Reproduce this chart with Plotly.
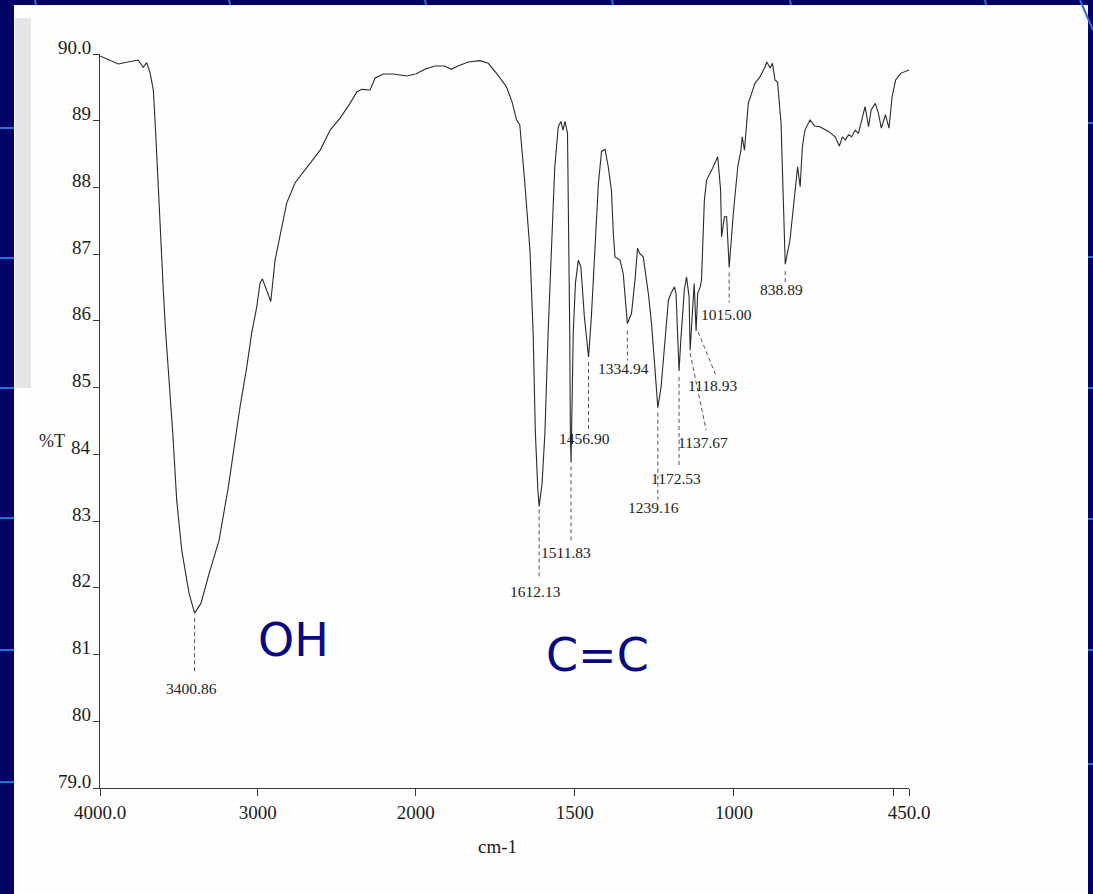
import plotly.graph_objects as go
import numpy as np

# ---------------- data ----------------
WAVENUMBER = [
    4000, 3884, 3823, 3759, 3726, 3704, 3683, 3662, 3645, 3631, 3615, 3599, 3585, 3567,
    3539, 3514, 3482, 3436, 3400.86, 3360, 3308, 3246, 3187, 3144, 3113, 3070, 3039, 3007,
    2986, 2971, 2944, 2918, 2891, 2859, 2817, 2764, 2701, 2637, 2605, 2542, 2479, 2416,
    2373, 2342, 2289, 2257, 2205, 2142, 2057, 2000,
    1971, 1940, 1909, 1888, 1867, 1835, 1798, 1772, 1746, 1715, 1697, 1683, 1673, 1657,
    1641, 1631, 1624, 1616, 1612.13, 1603, 1594, 1584, 1573, 1563, 1552, 1544, 1537, 1531,
    1523, 1519, 1516, 1514, 1511.83, 1505, 1498, 1489, 1481, 1470, 1456.90, 1448, 1437,
    1426, 1416, 1405, 1395, 1385, 1379, 1374, 1364, 1358, 1348, 1341, 1334.94, 1322, 1311,
    1303, 1296, 1285, 1269, 1259, 1248, 1239.16, 1229, 1217, 1206, 1198, 1187, 1182,
    1172.53, 1167, 1156, 1149, 1141, 1137.67, 1129, 1125, 1118.93, 1114, 1106, 1102, 1093,
    1086, 1070, 1051, 1042, 1039, 1030, 1023, 1015.00, 1002, 988, 978, 974, 967, 960, 955,
    934, 918, 902, 897, 886, 879, 871, 863, 852, 845, 838.89, 824, 810, 800, 792, 785, 777,
    761, 746, 730, 703, 682, 669, 659, 650, 640, 630, 619, 609, 598, 588, 577, 569, 556,
    546, 537, 524, 513, 503, 492, 476, 450,
]
TRANSMITTANCE = [
    89.97, 89.85, 89.88, 89.91, 89.80, 89.87, 89.72, 89.46, 88.71, 87.96, 87.21, 86.46, 85.86, 85.31,
    84.32, 83.31, 82.56, 81.92, 81.62, 81.77, 82.22, 82.71, 83.51, 84.21, 84.71, 85.31, 85.82, 86.21,
    86.57, 86.63, 86.46, 86.29, 86.91, 87.26, 87.77, 88.07, 88.26, 88.46, 88.56, 88.86, 89.04, 89.26,
    89.43, 89.47, 89.46, 89.64, 89.70, 89.70, 89.67, 89.70,
    89.77, 89.82, 89.82, 89.77, 89.82, 89.88, 89.90, 89.86, 89.71, 89.51, 89.28, 89.01, 88.94, 88.06,
    87.06, 85.82, 84.32, 83.45, 83.22, 83.56, 84.32, 85.82, 87.06, 88.31, 88.91, 88.99, 88.86, 88.99,
    88.81, 87.32, 85.82, 84.32, 83.88, 85.82, 86.57, 86.91, 86.81, 86.06, 85.46, 86.06, 87.06,
    88.06, 88.54, 88.57, 88.31, 87.96, 87.31, 86.96, 86.93, 86.91, 86.71, 86.30, 85.96, 86.11, 86.61,
    87.09, 87.01, 86.96, 86.41, 85.96, 85.21, 84.70, 85.01, 85.71, 86.31, 86.41, 86.51, 86.41,
    85.25, 85.71, 86.46, 86.66, 86.36, 85.56, 86.36, 86.56, 85.85, 86.41, 86.51, 86.61, 87.81,
    88.11, 88.26, 88.46, 87.96, 87.26, 87.56, 87.56, 86.80, 87.61, 88.31, 88.56, 88.76, 88.56, 88.96, 89.26,
    89.56, 89.66, 89.81, 89.88, 89.79, 89.86, 89.61, 89.58, 88.96, 87.96, 86.85, 87.21, 87.81, 88.31, 88.01, 88.61, 88.86,
    89.01, 88.92, 88.91, 88.84, 88.76, 88.62, 88.76, 88.71, 88.79, 88.76, 88.86, 88.81, 89.01, 89.21, 88.91, 89.16, 89.26,
    89.11, 88.89, 89.09, 88.89, 89.36, 89.61, 89.71, 89.76,
]

PEAK_LABELS = ["3400.86", "1612.13", "1511.83", "1456.90", "1334.94", "1239.16",
               "1172.53", "1137.67", "1118.93", "1015.00", "838.89"]
PEAK_T = [81.62, 83.22, 83.88, 85.46, 85.96, 84.70, 85.25, 85.56, 85.85, 86.80, 86.85]

GROUP_LABELS = ["OH", "C=C"]

Y_TICKS = [79, 80, 81, 82, 83, 84, 85, 86, 87, 88, 89, 90]
Y_TICK_TEXT = ["79.0", "80", "81", "82", "83", "84", "85", "86", "87", "88", "89", "90.0"]
X_TICKS_LEFT = [4000, 3000]
X_TICK_TEXT_LEFT = ["4000.0", "3000"]
X_TICKS_RIGHT = [2000, 1500, 1000, 500, 450]
X_TICK_TEXT_RIGHT = ["2000", "1500", "1000", "", "450.0"]

# ---------------- layout helpers ----------------
W, H = 1093, 894
L, R, T, B = 100, 909, 54, 788          # plot area in pixels
SPLIT = (415.7 - L) / (R - L)           # 2000 cm-1 break (scale doubles)


def px(x):
    return (x - L) / (R - L)


def py(y):
    return (B - y) / (B - T)


SERIF = "Liberation Serif, Times New Roman, serif"
INK = "#1c1c1c"
NAVY = "#020266"
BLUE = "#2a6fd6"

wn = np.array(WAVENUMBER)
tr = np.array(TRANSMITTANCE)
left = wn >= 2000
right = wn <= 2000

fig = go.Figure()
fig.add_trace(go.Scatter(x=wn[left], y=tr[left], mode="lines", xaxis="x", yaxis="y",
                         line=dict(color="#2a2a2a", width=1.1), showlegend=False, hoverinfo="x+y"))
fig.add_trace(go.Scatter(x=wn[right], y=tr[right], mode="lines", xaxis="x2", yaxis="y",
                         line=dict(color="#2a2a2a", width=1.1), showlegend=False, hoverinfo="x+y"))

shapes = []
annotations = []

# white scanned page on a navy slide
shapes.append(dict(type="rect", xref="paper", yref="paper", layer="below",
                   x0=px(14), x1=px(1088), y0=py(5), y1=py(H + 5),
                   fillcolor="#fefefe", line=dict(width=0)))
# grey scanner speckle strip at the left edge
shapes.append(dict(type="rect", xref="paper", yref="paper", layer="below",
                   x0=px(15), x1=px(31), y0=py(388), y1=py(18),
                   fillcolor="rgba(140,140,140,0.22)", line=dict(width=0)))
# slide grid fragments visible around the page
for gx in [35, 229, 425, 612, 790, 985]:
    shapes.append(dict(type="line", xref="paper", yref="paper", layer="below",
                       x0=px(gx), x1=px(gx + 1), y0=py(0), y1=py(5),
                       line=dict(color=BLUE, width=2)))
for gy in [128, 258, 388, 518, 650, 782]:
    shapes.append(dict(type="line", xref="paper", yref="paper", layer="below",
                       x0=px(0), x1=px(14), y0=py(gy), y1=py(gy),
                       line=dict(color=BLUE, width=2)))
for gy in [123, 257, 388, 519, 650, 764]:
    shapes.append(dict(type="line", xref="paper", yref="paper", layer="below",
                       x0=px(1088), x1=px(W), y0=py(gy), y1=py(gy),
                       line=dict(color=BLUE, width=2)))
shapes.append(dict(type="line", xref="paper", yref="paper", layer="below",
                   x0=px(1080), x1=px(1093), y0=py(0), y1=py(30),
                   line=dict(color=BLUE, width=2)))

# peak leader lines (pixel offsets from the peak) and labels
LEADER = [  # (line dx0, dy0, dx1, dy1, label dx, label dy) in pixels, dy downward
    (0, 5, 0, 61, -3, 75),
    (0, 3, 0, 73, -4, 85),
    (0, 4, 0, 80, -5, 90),
    (0, 5, 0, 72, -4, 82),
    (0, 7, 0, 37, -4, 45),
    (0, 5, 0, 92, -4, 100),
    (0, 6, 0, 96, -3, 108),
    (0, 3, 16, 80, 13, 92),
    (2, 1, 20, 45, 16, 55),
    (0, 5, 0, 35, -3, 47),
    (0, 7, 0, 19, -4, 25),
]
for lab, pt, (dx0, dy0, dx1, dy1, lx, ly) in zip(PEAK_LABELS, PEAK_T, LEADER):
    pw = float(lab)
    xr = "x" if pw > 2000 else "x2"
    shapes.append(dict(type="line", xref=xr, yref="y", xsizemode="pixel", ysizemode="pixel",
                       xanchor=pw, yanchor=pt, x0=dx0, x1=dx1, y0=-dy0, y1=-dy1,
                       line=dict(color="#555555", width=1, dash="4px,3px")))
    annotations.append(dict(x=pw, y=pt, xref=xr, yref="y", text=lab, showarrow=False,
                            xanchor="center", yanchor="middle",
                            xshift=lx, yshift=-ly, font=dict(family=SERIF, size=15.5, color=INK)))

# y tick labels (sitting just above their tick marks, like the scan)
for v, t in zip(Y_TICKS, Y_TICK_TEXT):
    annotations.append(dict(x=px(93), y=v, xref="paper", yref="y", text=t, showarrow=False,
                            xanchor="right", yanchor="middle", yshift=7,
                            font=dict(family=SERIF, size=19, color=INK)))

# axis titles
annotations.append(dict(x=px(52), y=py(441), xref="paper", yref="paper", text="%T",
                        xanchor="center", yanchor="middle",
                        showarrow=False, font=dict(family=SERIF, size=18, color=INK)))
annotations.append(dict(x=px(497), y=py(846), xref="paper", yref="paper", text="cm-1",
                        xanchor="center", yanchor="middle",
                        showarrow=False, font=dict(family=SERIF, size=19, color=INK)))

# functional-group labels added on the slide
annotations.append(dict(x=px(293), y=py(640), xref="paper", yref="paper", text=GROUP_LABELS[0],
                        xanchor="center", yanchor="middle", showarrow=False,
                        font=dict(family="DejaVu Sans, Verdana, sans-serif", size=46, color="#0a0a80")))
annotations.append(dict(x=px(597), y=py(655), xref="paper", yref="paper", text=GROUP_LABELS[1],
                        xanchor="center", yanchor="middle", showarrow=False,
                        font=dict(family="DejaVu Sans, Verdana, sans-serif", size=46, color="#0a0a80")))

axis_common = dict(showgrid=False, zeroline=False, showline=True, linecolor="#3a3a3a",
                   linewidth=1.3, ticks="outside", ticklen=7, tickcolor="#3a3a3a",
                   tickfont=dict(family=SERIF, size=19, color=INK), anchor="y")

fig.update_layout(
    width=W, height=H, autosize=False,
    margin=dict(l=L, r=W - R, t=T, b=H - B, pad=0),
    paper_bgcolor=NAVY, plot_bgcolor="#fefefe",
    showlegend=False,
    xaxis=dict(domain=[0, SPLIT], range=[4000, 2000], tickmode="array",
               tickvals=X_TICKS_LEFT, ticktext=X_TICK_TEXT_LEFT, **axis_common),
    xaxis2=dict(domain=[SPLIT, 1], range=[2000, 450], tickmode="array",
                tickvals=X_TICKS_RIGHT, ticktext=X_TICK_TEXT_RIGHT, **axis_common),
    yaxis=dict(range=[79, 90], showgrid=False, zeroline=False, showline=True,
               linecolor="#3a3a3a", linewidth=1.3, ticks="outside", ticklen=6,
               tickcolor="#3a3a3a", tickmode="array", tickvals=Y_TICKS,
               showticklabels=False),
    shapes=shapes,
    annotations=annotations,
)

fig.write_html("out.html")
